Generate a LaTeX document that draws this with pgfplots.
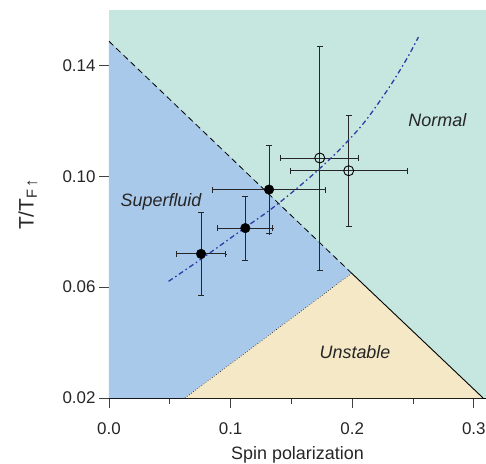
\documentclass[border=0pt]{standalone}
\usepackage{fontspec}
\setmainfont{Liberation Sans}
\usepackage{pgfplots}
\pgfplotsset{compat=1.18}
\definecolor{normalgreen}{HTML}{C6E7DF}
\definecolor{superblue}{HTML}{A9C9EA}
\definecolor{unstableyellow}{HTML}{F5E8C6}
\definecolor{fitblue}{HTML}{2E3DA6}

\begin{document}
\begin{tikzpicture}
\begin{axis}[
    scale only axis, width=377bp, height=388bp,
    xmin=0, xmax=0.31, ymin=0.02, ymax=0.16,
    axis x line*=bottom, axis y line*=left,
    axis line style={line width=0.8bp, black},
    tick align=outside,
    xtick={0,0.1,0.2,0.3}, xticklabels={0.0,0.1,0.2,0.3},
    minor xtick={0.05,0.15,0.25},
    ytick={0.02,0.06,0.10,0.14}, yticklabels={0.02,0.06,0.10,0.14},
    major tick length=10bp, minor tick length=6bp,
    tick style={line width=0.8bp, black!75},
    ticklabel style={font=\fontsize{17}{17}\selectfont, text=black!85},
    xticklabel style={yshift=-11bp},
    xlabel={Spin polarization},
    xlabel style={font=\fontsize{18}{18}\selectfont, text=black!85,
      at={(axis description cs:0.5,-0.147)}, anchor=center},
    ylabel={T/T\textsubscript{F\,{\fontsize{17}{17}\selectfont↑}}},
    ylabel style={font=\fontsize{21}{21}\selectfont, text=black!85,
      at={(axis description cs:-0.215,0.5)}, anchor=center},
    clip=true,
  ]
% phase regions
\addplot[draw=none, fill=normalgreen] coordinates {(0,0.02) (0.31,0.02) (0.31,0.16) (0,0.16)} -- cycle;
\addplot[draw=none, fill=superblue] coordinates {(0,0.02) (0.0625,0.02) (0.1996,0.065) (0,0.1487)} -- cycle;
\addplot[draw=none, fill=unstableyellow] coordinates {(0.0625,0.02) (0.1996,0.065) (0.3076,0.02)} -- cycle;

% boundaries
\addplot[black, line width=0.8bp, dash pattern=on 6bp off 4bp] coordinates {(0,0.1487) (0.1996,0.065)};
\addplot[black, line width=0.6bp, dotted] coordinates {(0.0625,0.02) (0.1996,0.065)};
\addplot[black, line width=0.9bp] coordinates {(0.1996,0.065) (0.3076,0.02)};

% error bars
\addplot[only marks, mark=*, mark size=0.1bp, black, forget plot,
  error bars/.cd, x dir=both, x explicit, y dir=both, y explicit,
  error bar style={line width=0.9bp, black!85}]
  coordinates {
    (0.0757,0.0720) +- (0.0204,0.0150)
    (0.1121,0.0813) +- (0.0227,0.0116)
    (0.1316,0.0952) +- (0.0463,0.0160)
    (0.1733,0.1066) +- (0.0320,0.0404)
    (0.1971,0.1020) +- (0.0481,0.0201)
  };
% caps of the y bars
\addplot[only marks, mark=-, mark size=3bp, black!85, mark options={line width=0.9bp}] coordinates {
  (0.0757,0.0870) (0.0757,0.0570) (0.1121,0.0929) (0.1121,0.0697) (0.1316,0.1112) (0.1316,0.0792)
  (0.1733,0.1470) (0.1733,0.0662) (0.1971,0.1221) (0.1971,0.0819)};
% caps of the x bars
\addplot[only marks, mark=|, mark size=3bp, black!85, mark options={line width=0.9bp}] coordinates {
  (0.0553,0.0720) (0.0961,0.0720) (0.0894,0.0813) (0.1348,0.0813) (0.0853,0.0952) (0.1779,0.0952)
  (0.1413,0.1066) (0.2053,0.1066) (0.1490,0.1020) (0.2452,0.1020)};

% fit curve
\addplot[fitblue, line width=1.3bp, smooth, dash pattern=on 5bp off 3bp on 1.5bp off 3bp]
  coordinates {(0.049,0.0621) (0.076,0.0702) (0.112,0.0815) (0.1316,0.0876) (0.150,0.0940)
    (0.170,0.1015) (0.190,0.1098) (0.210,0.1195) (0.230,0.1318) (0.245,0.1425) (0.2544,0.1502)};

% data points
\addplot[only marks, mark=*, mark size=4.8bp, black] coordinates {
  (0.0757,0.0720) (0.1121,0.0813) (0.1316,0.0952)};
\addplot[only marks, mark=o, mark size=5bp, black, line width=0.9bp] coordinates {
  (0.1733,0.1066) (0.1971,0.1020)};

\node[font=\itshape\fontsize{18}{18}\selectfont, text=black!85] at (axis cs:0.0428,0.0909) {Superfluid};
\node[font=\itshape\fontsize{18}{18}\selectfont, text=black!85] at (axis cs:0.270,0.1202) {Normal};
\node[font=\itshape\fontsize{18}{18}\selectfont, text=black!85] at (axis cs:0.2023,0.0366) {Unstable};
\end{axis}
\pgfresetboundingbox
\path (current axis.south west) ++(-109bp,-66bp) rectangle ([yshift=10bp]current axis.north east);
\end{tikzpicture}
\end{document}
